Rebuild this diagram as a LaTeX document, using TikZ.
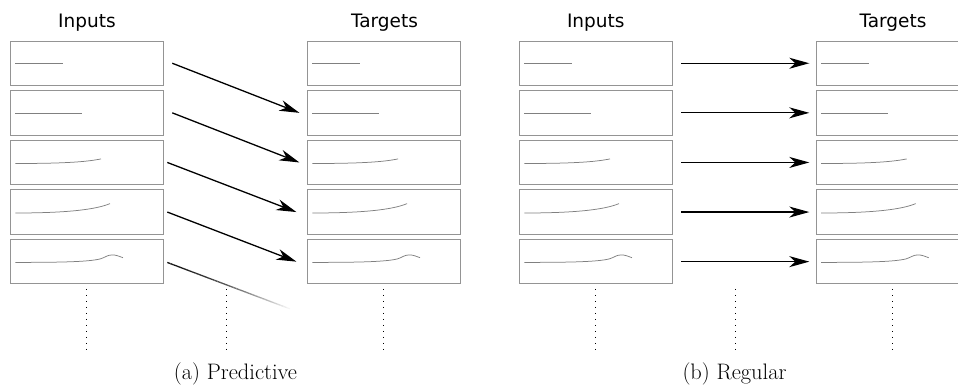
\documentclass[tikz,border=0pt]{standalone}
\usepackage{fontspec}
\newfontfamily\labelfont{DejaVu Sans}
\usetikzlibrary{arrows.meta,calc}
\definecolor{boxgray}{gray}{0.58}
\definecolor{curvegray}{gray}{0.5}
\tikzset{
  box/.style={draw=boxgray, line width=0.9pt, minimum width=153pt, minimum height=44.5pt, inner sep=0pt, outer sep=0pt},
  curve/.style={draw=curvegray, line width=0.75pt},
  arr/.style={line width=1.3pt, -{Stealth[length=20pt,width=11pt,inset=6pt]}},
  dotline/.style={line width=1.1pt, dash pattern=on 1pt off 5pt},
  lbl/.style={font=\labelfont\fontsize{18.5}{22}\selectfont, inner sep=0pt, anchor=base},
  captxt/.style={font=\fontsize{22.4}{26}\selectfont, inner sep=0pt, anchor=base},
  pics/cA/.style={code={\draw[curve] (5,22.3) -- (53,22.3);}},
  pics/cB/.style={code={\draw[curve] (5,22.3) -- (71.6,22.3);}},
  pics/cC/.style={code={\draw[curve] (5,23.3) .. controls (50,23.3) and (75,22) .. (90.7,18.7);}},
  pics/cD/.style={code={\draw[curve] (5,23.2) .. controls (55,23.2) and (85,20) .. (99.7,13.8);}},
  pics/cE/.style={code={\draw[curve] (5,23) .. controls (50,23) and (78,22.5) .. (90,19.5) .. controls (95,18) and (97,15.5) .. (102,15.5) .. controls (106,15.5) and (109,17) .. (112.7,18.3);}},
}
\begin{document}
\begin{tikzpicture}[x=1pt,y=-1pt]
\useasboundingbox (0,0) rectangle (958,385);
% boxes
\foreach \i/\cy/\c in {1/63.25/cA,2/112.85/cB,3/162.45/cC,4/212.05/cD,5/261.65/cE}{
  \node[box] (inL\i) at (86.8,\cy) {};
  \node[box] (tgL\i) at (383.9,\cy) {};
  \node[box] (inR\i) at (595.8,\cy) {};
  \node[box] (tgR\i) at (892.5,\cy) {};
  \pic at (inL\i.north west) {\c};
  \pic at (tgL\i.north west) {\c};
  \pic at (inR\i.north west) {\c};
  \pic at (tgR\i.north west) {\c};
}
% labels
\node[lbl] (hInL) at (87,28) {Inputs};
\node[lbl] (hTgL) at (384.5,28) {Targets};
\node[lbl] (hInR) at (595.8,28) {Inputs};
\node[lbl] (hTgR) at (893,28) {Targets};
% predictive arrows
\draw[arr] ([xshift=9pt]inL1.east) -- ([xshift=-8pt]tgL2.west);
\draw[arr] ([xshift=9pt]inL2.east) -- ([xshift=-8pt]tgL3.west);
\draw[arr] ([xshift=4pt]inL3.east) -- ([xshift=-11pt]tgL4.west);
\draw[arr] ([xshift=4pt]inL4.east) -- ([xshift=-11pt]tgL5.west);
% fading line
\coordinate (fs) at ([xshift=4pt,yshift=-0.8pt]inL5.east);
\coordinate (fe) at (293,310);
\foreach \k in {0,...,39}{
  \pgfmathsetmacro{\p}{max(0,92*(1-(\k/39)^1.6))}
  \draw[line width=1.3pt, color=black!\p] ($(fs)!{\k/40}!(fe)$) -- ($(fs)!{(\k+1)/40}!(fe)$);
}
% regular arrows
\foreach \i in {1,...,5}{
  \draw[arr] ([xshift=8.7pt]inR\i.east) -- ([xshift=-6.7pt]tgR\i.west);
}
% dotted lines
\draw[dotline] ([yshift=-5pt]inL5.south) -- ++(0,61);
\draw[dotline] ([yshift=-5pt]tgL5.south) -- ++(0,61);
\draw[dotline] ([yshift=-5pt]inR5.south) -- ++(0,61);
\draw[dotline] ([yshift=-5pt]tgR5.south) -- ++(0,61);
\coordinate (mA) at (226.7,288.9);
\coordinate (mB) at (735.7,288.9);
\draw[dotline] (mA) -- ++(0,61);
\draw[dotline] (mB) -- ++(0,61);
% captions
\node[captxt] (capA) at (235.5,379.5) {(a) Predictive};
\node[captxt] (capB) at (734.5,379.5) {(b) Regular};
\end{tikzpicture}
\end{document}
